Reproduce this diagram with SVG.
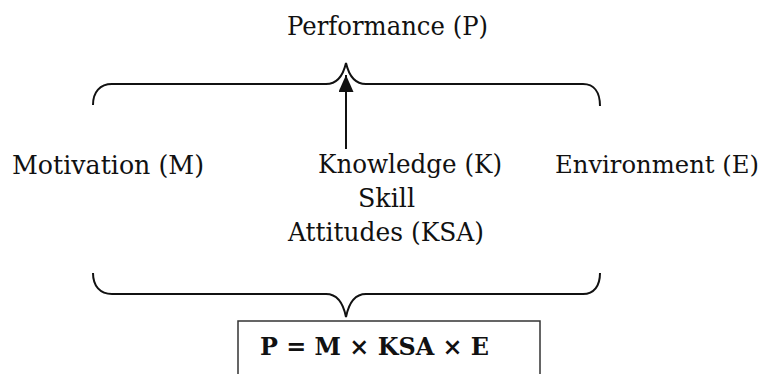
<svg xmlns="http://www.w3.org/2000/svg" width="767" height="374" viewBox="0 0 767 374">
<defs>
<style>
.t{font-family:"DejaVu Serif","Liberation Serif",serif;font-size:26.5px;fill:#111;}
.b{font-family:"DejaVu Serif","Liberation Serif",serif;font-size:25px;font-weight:bold;fill:#111;}
.br{fill:none;stroke:#111;stroke-width:2;}
</style>
<marker id="ah" viewBox="0 0 17 15" refX="17" refY="7.5" markerWidth="17" markerHeight="15" markerUnits="userSpaceOnUse" orient="auto">
<path d="M0,0 L17,7.5 L0,15 z" fill="#111"/>
</marker>
</defs>
<rect width="767" height="374" fill="#fff"/>
<g id="performance"><text class="t" x="287" y="35" textLength="201" lengthAdjust="spacingAndGlyphs">Performance (P)</text></g>
<g id="motivation"><text class="t" x="12" y="174" textLength="192" lengthAdjust="spacingAndGlyphs">Motivation (M)</text></g>
<g id="ksa">
<text class="t" x="318" y="173" textLength="184" lengthAdjust="spacingAndGlyphs">Knowledge (K)</text>
<text class="t" x="358" y="207" textLength="57" lengthAdjust="spacingAndGlyphs">Skill</text>
<text class="t" x="288" y="241" textLength="196" lengthAdjust="spacingAndGlyphs">Attitudes (KSA)</text>
</g>
<g id="environment"><text class="t" x="555" y="173" style="font-size:24.5px" textLength="204" lengthAdjust="spacingAndGlyphs">Environment (E)</text></g>
<g id="formula">
<rect x="238" y="321" width="302" height="70" fill="none" stroke="#333" stroke-width="1.5"/>
<text class="b" x="260" y="355" textLength="229" lengthAdjust="spacingAndGlyphs">P = M × KSA × E</text>
</g>
<g id="connectors">
<path class="br" d="M93,105 C93,92 100,84 112,84 L326,84 C336,84 343,76 346,63 C349,76 356,84 366,84 L583,84 C594,84 600,92 600,106"/>
<path class="br" d="M93,273 C93,286 100,294 112,294 L326,294 C336,294 343,302 346,317 C349,302 356,294 366,294 L583,294 C594,294 600,286 600,273"/>
<line x1="346" y1="149" x2="346" y2="75" stroke="#111" stroke-width="2" marker-end="url(#ah)"/>
</g>
</svg>
